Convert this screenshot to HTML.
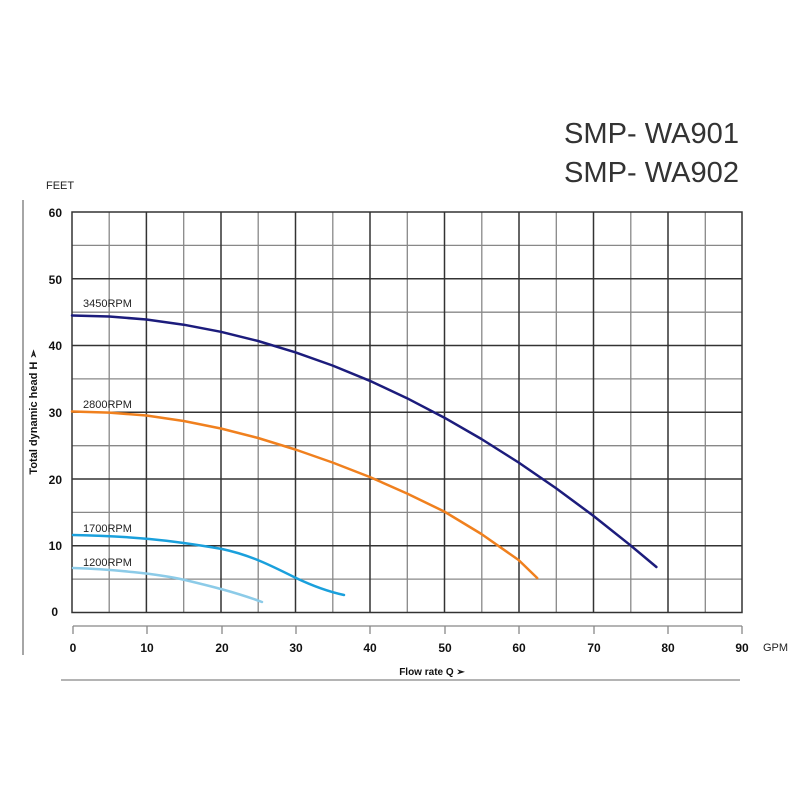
<!DOCTYPE html>
<html><head><meta charset="utf-8"><style>body{margin:0;background:#fff}</style></head><body>
<svg width="800" height="800" xmlns="http://www.w3.org/2000/svg" font-family="Liberation Sans, sans-serif">
<rect width="800" height="800" fill="#fff"/>
<text x="564" y="143" font-size="29" fill="#333" textLength="175" lengthAdjust="spacingAndGlyphs">SMP- WA901</text>
<text x="564" y="182" font-size="29" fill="#333" textLength="175" lengthAdjust="spacingAndGlyphs">SMP- WA902</text>
<text x="46" y="189" font-size="11" fill="#222">FEET</text>
<line x1="23" y1="200" x2="23" y2="655" stroke="#888" stroke-width="1.5"/>
<g stroke="#888" stroke-width="1.3">
<line x1="109.2" y1="212" x2="109.2" y2="612.5"/><line x1="183.7" y1="212" x2="183.7" y2="612.5"/>
<line x1="258.2" y1="212" x2="258.2" y2="612.5"/><line x1="332.8" y1="212" x2="332.8" y2="612.5"/>
<line x1="407.3" y1="212" x2="407.3" y2="612.5"/><line x1="481.8" y1="212" x2="481.8" y2="612.5"/>
<line x1="556.3" y1="212" x2="556.3" y2="612.5"/><line x1="630.8" y1="212" x2="630.8" y2="612.5"/>
<line x1="705.3" y1="212" x2="705.3" y2="612.5"/>
<line x1="72" y1="245.4" x2="742" y2="245.4"/><line x1="72" y1="312.2" x2="742" y2="312.2"/>
<line x1="72" y1="378.9" x2="742" y2="378.9"/><line x1="72" y1="445.7" x2="742" y2="445.7"/>
<line x1="72" y1="512.4" x2="742" y2="512.4"/><line x1="72" y1="579.1" x2="742" y2="579.1"/>
</g>
<g stroke="#333" stroke-width="1.5">
<line x1="146.4" y1="212" x2="146.4" y2="612.5"/><line x1="221" y1="212" x2="221" y2="612.5"/>
<line x1="295.5" y1="212" x2="295.5" y2="612.5"/><line x1="370" y1="212" x2="370" y2="612.5"/>
<line x1="444.5" y1="212" x2="444.5" y2="612.5"/><line x1="519" y1="212" x2="519" y2="612.5"/>
<line x1="593.5" y1="212" x2="593.5" y2="612.5"/><line x1="668" y1="212" x2="668" y2="612.5"/>
<line x1="72" y1="278.8" x2="742" y2="278.8"/><line x1="72" y1="345.5" x2="742" y2="345.5"/>
<line x1="72" y1="412.3" x2="742" y2="412.3"/><line x1="72" y1="479" x2="742" y2="479"/>
<line x1="72" y1="545.8" x2="742" y2="545.8"/>
<rect x="72" y="212" width="670" height="400.5" fill="none"/>
</g>
<g font-size="12" font-weight="bold" fill="#111" text-anchor="end">
<text x="62" y="217">60</text><text x="62" y="284">50</text><text x="62" y="350">40</text>
<text x="62" y="417">30</text><text x="62" y="484">20</text><text x="62" y="550">10</text><text x="58" y="616">0</text>
</g>
<text transform="translate(37,412) rotate(-90)" font-size="11" font-weight="bold" fill="#111" text-anchor="middle">Total dynamic head  H ➢</text>
<g stroke="#888" stroke-width="1.3">
<line x1="73" y1="626" x2="742" y2="626"/>
<line x1="73" y1="626" x2="73" y2="634"/><line x1="147" y1="626" x2="147" y2="634"/><line x1="222" y1="626" x2="222" y2="634"/>
<line x1="296" y1="626" x2="296" y2="634"/><line x1="370" y1="626" x2="370" y2="634"/><line x1="445" y1="626" x2="445" y2="634"/>
<line x1="519" y1="626" x2="519" y2="634"/><line x1="594" y1="626" x2="594" y2="634"/><line x1="668" y1="626" x2="668" y2="634"/>
<line x1="742" y1="626" x2="742" y2="634"/>
<line x1="61" y1="680" x2="740" y2="680"/>
</g>
<g font-size="12" font-weight="bold" fill="#111" text-anchor="middle">
<text x="73" y="652">0</text><text x="147" y="652">10</text><text x="222" y="652">20</text><text x="296" y="652">30</text>
<text x="370" y="652">40</text><text x="445" y="652">50</text><text x="519" y="652">60</text><text x="594" y="652">70</text>
<text x="668" y="652">80</text><text x="742" y="652">90</text>
</g>
<text x="763" y="651" font-size="11" fill="#222">GPM</text>
<text x="432" y="675" font-size="10" font-weight="bold" fill="#111" text-anchor="middle">Flow rate Q ➢</text>
<g font-size="11" fill="#222">
<text x="83" y="307">3450RPM</text><text x="83" y="408">2800RPM</text>
<text x="83" y="532">1700RPM</text><text x="83" y="566">1200RPM</text>
</g>
<g fill="none" stroke-width="2.5" stroke-linejoin="round" stroke-linecap="round">
<polyline points="72,315.5 109.2,316.5 146.4,319.5 183.7,324.7 220.9,331.8 258.1,341 295.3,352.3 332.5,365.5 369.8,380.8 407,398.2 444.2,417.6 481.4,439 518.6,462.5 555.9,488.1 593.1,515.6 630.3,545.2 656.4,567" stroke="#1c1c7c"/>
<polyline points="72,411.5 109.2,412.6 146.4,415.5 183.7,421 220.9,428.5 258.1,438 295.3,449.5 332.5,462.5 369.8,477 407,493.5 444.2,511.5 481.4,534 518.6,560 537.2,578" stroke="#f0801e"/>
<path d="M73,535 C130,536 170,540 222,549 C250,555 270,565 296,578 C315,587 330,592 344,595" stroke="#1aa0dc"/>
<path d="M73,568 C110,569 160,574 185,580 C210,586 235,592 262,602" stroke="#8ccbe8"/>
</g>
</svg>
</body></html>
